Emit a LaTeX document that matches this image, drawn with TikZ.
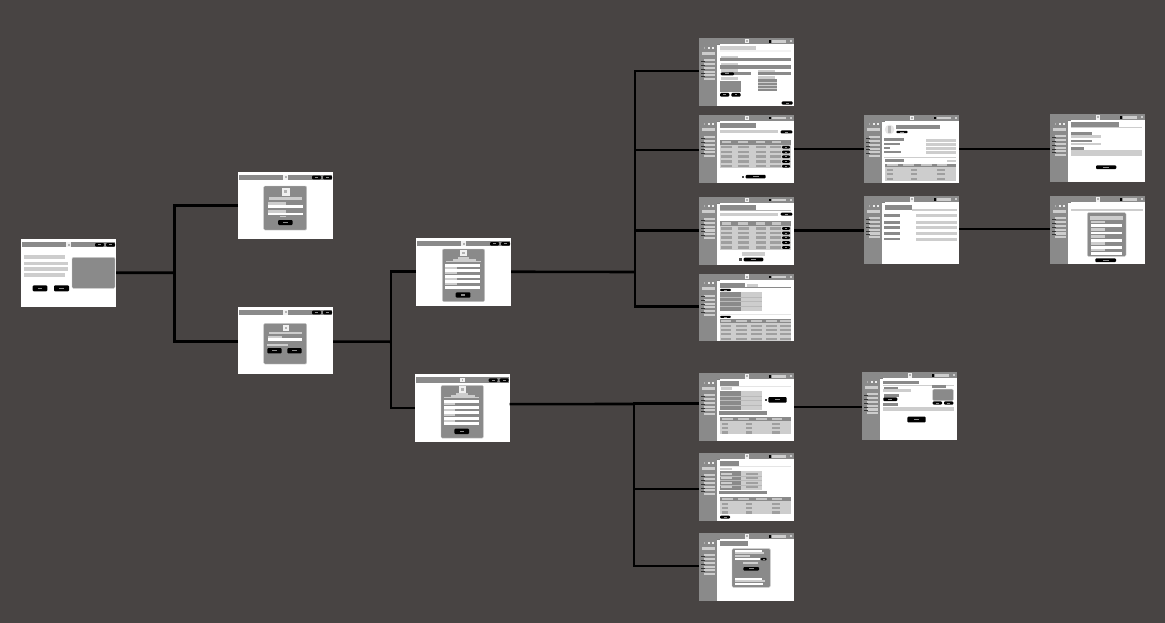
\documentclass[tikz,border=0pt]{standalone}
\usetikzlibrary{calc}
\definecolor{boardbg}{RGB}{72,68,67}
\definecolor{panelgray}{RGB}{138,138,138}
\definecolor{bargray}{RGB}{205,205,205}

\begin{document}
\begin{tikzpicture}[x=1pt,y=-1pt]
  % Styles
  \tikzset{
    screenbox/.style={fill=white,minimum width=95pt,minimum height=67.5pt,inner sep=0pt,outer sep=0pt,anchor=north west},
    link/.style={line width=2.6pt,black},
    panelfill/.style={fill=panelgray},
    barfill/.style={fill=bargray},
    inputfill/.style={fill=white},
    cardfill/.style={fill=panelgray,draw=bargray,line width=0.4pt,rounded corners=1.2pt},
    btnfill/.style={fill=black,rounded corners=1pt},
    tabfill/.style={fill=gray!75}
  }

  % Helpers: style, x1, y1, x2, y2 (local to one screen)
  \newcommand{\pane}[5]{\fill[#1] (#2,#3) rectangle (#4,#5);}
  \newcommand{\pill}[4]{%
    \fill[btnfill] (#1,#2) rectangle (#3,#4);
    \fill[panelgray] ({(#1)+0.35*((#3)-(#1))},{(#2)+0.38*((#4)-(#2))}) rectangle ({(#1)+0.65*((#3)-(#1))},{(#2)+0.62*((#4)-(#2))});
  }
  % Logo: x, y, size
  \newcommand{\logomark}[3]{%
    \fill[gray!12] (#1,#2) rectangle ++(#3,#3);
    \fill[gray!60] ({#1+0.3*#3},{#2+0.3*#3}) rectangle ++({0.4*#3},{0.4*#3});
  }
  \newcommand{\screen}[4]{% #1 name, #2 x, #3 y, #4 body
    \node[screenbox] (#1) at (#2,#3) {};
    \begin{scope}[shift={(#2,#3)}] #4 \end{scope}
  }

  % Public header: bar, logo, two buttons
  \newcommand{\siteshell}{%
    \pane{panelfill}{1}{3}{94}{8.2}
    \logomark{45.4}{3.2}{4.8}
    \pill{74}{4}{83}{7.6}
    \pill{85}{4}{94}{7.6}
  }
  % Logged in frame: top bar, side menu
  \newcommand{\appshell}{%
    \pane{panelfill}{0}{0}{95}{5.7}
    \pane{panelfill}{0}{5.7}{18}{67.5}
    \logomark{45.6}{0.6}{4.6}
    \pane{fill=black}{69.7}{1.7}{71.7}{4.3}
    \pane{barfill}{73}{2}{87}{4.3}
    \pane{barfill}{91}{2}{93}{4}
    \pane{fill=gray!60}{4.5}{8.3}{6.3}{10.3}
    \foreach \dotx in {9,13}{\pane{fill=gray!15}{\dotx}{8.3}{\dotx+1.8}{10.3}}
    \pane{barfill}{3}{13.3}{15.7}{16.3}
    \foreach \rowy in {20.7,24.7,28.7,32.4,36}{%
      \pane{barfill}{5.3}{\rowy}{16}{\rowy+2.1}
      \pane{fill=gray!40!black}{2}{\rowy+1.9}{5.6}{\rowy+2.3}
    }
    \pane{barfill}{5.3}{39.7}{16}{41.8}
    \pane{fill=gray}{18}{5.7}{21}{6.3}
  }
  % Three column table, header at #1
  \newcommand{\lowtable}[1]{%
    \pane{panelfill}{20.6}{#1}{92}{#1+3.8}
    \pane{barfill}{20.6}{#1+3.8}{92}{#1+17}
    \foreach \colx/\colw in {22.7/11,38.7/11,56.7/11,72.7/10}{\pane{fill=gray!45}{\colx}{#1+0.9}{\colx+\colw}{#1+2.9}}
    \foreach \rowy in {5.2,9.7,14}{%
      \pane{tabfill}{23.3}{#1+\rowy}{29.3}{#1+\rowy+2.2}
      \pane{tabfill}{47}{#1+\rowy}{53}{#1+\rowy+2.2}
      \pane{tabfill}{72.7}{#1+\rowy}{81}{#1+\rowy+2.2}
    }
  }
  % List table with row buttons, header at #1
  \newcommand{\listtable}[1]{%
    \pane{panelfill}{21}{#1}{92}{#1+4.8}
    \pane{barfill}{21}{#1+4.8}{92}{#1+28.6}
    \foreach \colx/\colw in {22.7/9.5,38.7/10.3,56.7/9.6,72.7/9.6}{\pane{fill=gray!45}{\colx}{#1+1.3}{\colx+\colw}{#1+3.6}}
    \foreach \rowy in {6,10.7,15.4,20.2,25}{%
      \pane{tabfill}{21.7}{#1+\rowy}{32.7}{#1+\rowy+2.6}
      \pane{tabfill}{38.7}{#1+\rowy}{49.7}{#1+\rowy+2.6}
      \pane{tabfill}{56.7}{#1+\rowy}{67.3}{#1+\rowy+2.6}
      \pane{tabfill}{71}{#1+\rowy}{82}{#1+\rowy+2.6}
      \pill{83}{#1+\rowy}{91}{#1+\rowy+2.8}
    }
  }
  % Dark and light key/value block, top at #1
  \newcommand{\keytable}[1]{%
    \pane{panelfill}{21}{#1}{41.7}{#1+18.7}
    \pane{barfill}{41.7}{#1}{62.7}{#1+18.7}
    \foreach \rowy in {4.7,9.4,14}{\pane{fill=gray!55}{21}{#1+\rowy}{62.7}{#1+\rowy+0.6}}
  }
  % Sign up form in a card
  \newcommand{\longform}{%
    \pane{cardfill}{26.3}{11}{68.7}{63.7}
    \logomark{44.3}{11.8}{6.6}
    \pane{barfill}{41.7}{19}{53}{21}
    \pane{barfill}{36.7}{21}{60}{23}
    \pane{barfill}{29.7}{23}{64.7}{24}
    \foreach \rowy in {25.7,31.3,36.8,42.4,48}{\pane{inputfill}{29.3}{\rowy}{64}{\rowy+2.8}}
    \foreach \rowy in {28.7,34.2,40,45.4}{\pane{barfill}{29.3}{\rowy}{40.7}{\rowy+2}}
    \pill{39.7}{54.3}{54.3}{59.7}
  }

  % Board
  \path[fill=boardbg,use as bounding box] (0,0) rectangle (1165,623);

  % Landing and sign in pages
  \screen{home}{21}{239}{%
    \siteshell
    \pane{barfill}{2.7}{16.3}{44}{20}
    \pane{barfill}{2.7}{22.7}{47}{26.3}
    \pane{barfill}{2.7}{28}{47}{32}
    \pane{barfill}{2.7}{34}{44}{37.7}
    \pane{cardfill}{51}{18.3}{94}{49.3}
    \pill{11.7}{46.3}{26.3}{52.3}
    \pill{33}{46.3}{48}{52.3}
  }
  \screen{login}{238}{171.7}{%
    \siteshell
    \pane{cardfill}{25.7}{14.3}{68.7}{58.3}
    \logomark{43.7}{16}{7.8}
    \pane{barfill}{31}{25}{63.7}{28}
    \pane{barfill}{30}{30}{47.7}{33}
    \pane{inputfill}{30}{33}{64.7}{36}
    \pane{barfill}{30}{38.3}{47.7}{40.8}
    \pane{inputfill}{30}{40.8}{64.7}{43.7}
    \pane{barfill}{41.7}{44}{48.3}{45.7}
    \pill{40}{48.3}{54.7}{53.3}
  }
  \screen{register}{238}{306.7}{%
    \siteshell
    \pane{cardfill}{25.7}{16.7}{68.7}{57.3}
    \logomark{44.7}{18.3}{6}
    \pane{barfill}{31}{25}{64}{27.3}
    \pane{barfill}{30}{29.3}{44.3}{31.7}
    \pane{inputfill}{30}{31.7}{63.7}{34.7}
    \pane{barfill}{29.3}{37.3}{49.7}{39.7}
    \pill{29.3}{41.3}{43.7}{46.7}
    \pill{49.3}{41.3}{63.7}{46.7}
  }
  \screen{formA}{416}{238}{\siteshell \longform}
  \screen{formB}{414.7}{374.4}{\siteshell \longform}

  % First dashboard column
  \screen{dashA}{699}{38.3}{%
    \appshell
    \pane{barfill}{21}{7.7}{56.7}{12.3}
    \pane{fill=gray!10}{21}{11.7}{92}{13.7}
    \pane{barfill}{21.7}{17.3}{39.3}{20}
    \pane{panelfill}{21}{20}{92}{23}
    \pane{barfill}{21.7}{24.3}{39.3}{27}
    \pane{panelfill}{21}{27}{92}{30.3}
    \pane{barfill}{21.7}{31}{39.3}{33.3}
    \pane{panelfill}{30}{34}{51.7}{36.7}
    \pill{21.7}{34}{35}{37}
    \pane{barfill}{59}{31.7}{76.3}{34}
    \pane{panelfill}{59}{34}{92}{37}
    \pane{barfill}{22}{38.7}{39.3}{41.7}
    \pane{panelfill}{21}{42.7}{42}{54}
    \pane{barfill}{59}{38}{76.3}{40.7}
    \pane{panelfill}{59}{41}{78}{53}
    \foreach \rowy in {44,47,50}{\pane{barfill}{59}{\rowy}{78}{\rowy+1}}
    \pill{21}{54.7}{30.3}{58.3}
    \pill{32.3}{54.7}{41.7}{58.3}
    \pill{82.7}{63}{93.7}{66.3}
  }
  \screen{dashB}{699}{115.2}{%
    \appshell
    \pane{panelfill}{21}{8.3}{57}{13.3}
    \pane{barfill}{21}{15}{78.7}{18}
    \pill{81.7}{15.3}{93.3}{18.3}
    \listtable{24.7}
    \pane{fill=gray!60!black}{42.7}{60.5}{45}{62.5}
    \pill{46.7}{59.7}{66.7}{63.3}
  }
  \screen{dashC}{699}{197}{%
    \appshell
    \pane{panelfill}{21}{8}{57}{13}
    \pane{fill=gray!60}{21}{13}{92}{13.7}
    \pane{barfill}{21}{16}{78.7}{18.7}
    \pill{81.7}{15.7}{93.3}{18.7}
    \listtable{24}
    \pane{barfill}{43}{55}{65.7}{59}
    \pane{fill=gray!60!black}{40.3}{61.3}{43}{63.7}
    \pill{44.7}{60.7}{64.3}{64.3}
  }
  \screen{dashD}{699}{273.8}{%
    \appshell
    \pane{panelfill}{21}{9}{46.3}{13.7}
    \pane{barfill}{47.7}{10.3}{59}{13}
    \pane{panelfill}{21}{13.3}{92}{14.3}
    \pill{21}{15}{32}{17.3}
    \keytable{18}
    \pane{fill=gray!20}{21}{40.3}{92}{41.3}
    \pill{21}{42}{32}{44}
    \pane{panelfill}{21}{44.7}{92}{49}
    \pane{barfill}{21}{49}{92}{67}
    \foreach \colx in {21.7,37,52.3,67,81}{%
      \pane{fill=gray!45}{\colx}{45.7}{\colx+10.5}{47.8}
      \foreach \rowy in {50.7,54.8,59.3,64}{\pane{tabfill}{\colx}{\rowy}{\colx+10.5}{\rowy+2.1}}
    }
  }
  \screen{dashE}{699}{373.3}{%
    \appshell
    \pane{panelfill}{21}{7.7}{39.7}{12.7}
    \pane{fill=gray!20}{21}{12.7}{92}{13.7}
    \pane{barfill}{21.7}{14}{33}{16.5}
    \keytable{17.7}
    \pane{fill=gray!60!black}{65.7}{25.3}{68}{27.3}
    \pill{69.3}{23.7}{87.7}{29.3}
    \pane{panelfill}{20.3}{37.3}{68.3}{41.3}
    \lowtable{44}
  }
  \screen{dashF}{699}{453.3}{%
    \appshell
    \pane{panelfill}{21}{7.7}{39.7}{13}
    \pane{fill=gray!20}{21}{12.7}{92}{13.7}
    \pane{barfill}{21}{14.3}{32.7}{16.7}
    \keytable{17.7}
    \foreach \rowy in {19.3,23.7,28.3,32.5}{%
      \pane{barfill}{22}{\rowy}{33}{\rowy+2.4}
      \pane{tabfill}{46.7}{\rowy}{59}{\rowy+2.4}
    }
    \pane{panelfill}{20.3}{37.3}{68.3}{41}
    \lowtable{44}
    \pill{21}{62.3}{31}{65.3}
  }
  \screen{dashG}{699}{533.3}{%
    \appshell
    \pane{panelfill}{21}{7.7}{49.3}{12.7}
    \pane{cardfill}{33}{15.3}{71.3}{54}
    \pane{inputfill}{36.3}{16.7}{63}{19}
    \pane{barfill}{36.3}{19}{65}{21}
    \pane{barfill}{36.3}{21.3}{51}{24}
    \pane{inputfill}{36.3}{24.3}{61}{27}
    \pill{61.7}{24.5}{67.7}{27}
    \pane{barfill}{44.3}{28.3}{59.3}{30.7}
    \pill{44.3}{33.7}{60}{37.3}
    \pane{inputfill}{36.3}{44.7}{63}{46.7}
    \pane{barfill}{36.3}{47}{66}{49}
    \pane{inputfill}{36.3}{50}{64}{52}
  }

  % Detail pages
  \screen{detailA}{864}{115.2}{%
    \appshell
    \fill[red!3!gray!20] (25.6,14.3) circle (4.8);
    \fill[gray!55] (24.4,11) rectangle (26.8,18);
    \pane{panelfill}{32.3}{9.7}{76.3}{14.3}
    \pill{32.3}{15.7}{43.7}{18}
    \pane{panelfill}{20.3}{23.3}{40.3}{25.7}
    \pane{panelfill}{20.3}{27.7}{35.7}{30}
    \pane{panelfill}{20.3}{32}{26}{34}
    \pane{panelfill}{20.3}{36}{37}{38.3}
    \foreach \rowy in {24,28,32,36.3}{\pane{barfill}{62}{\rowy}{91.7}{\rowy+2.7}}
    \pane{barfill}{20.3}{41.7}{91.7}{42.7}
    \pane{panelfill}{21}{44.3}{40}{47.3}
    \pane{barfill}{83}{45}{91.7}{46.7}
    \lowtable{48.4}
  }
  \screen{detailB}{864}{196.4}{%
    \appshell
    \pane{panelfill}{21}{8.3}{48}{14}
    \pane{barfill}{48}{13}{92.7}{14.3}
    \foreach \rowy in {18,24.7,29.7,35.7,41.3}{%
      \pane{panelfill}{20}{\rowy}{35.7}{\rowy+2.4}
      \pane{barfill}{51.7}{\rowy}{92.7}{\rowy+2.8}
    }
  }
  \screen{farA}{1050}{114.4}{%
    \appshell
    \pane{panelfill}{21}{7.7}{68.7}{12.7}
    \pane{barfill}{21}{12.7}{92}{13.7}
    \pane{panelfill}{21}{18}{42}{20.3}
    \pane{barfill}{21}{20.7}{51}{23.3}
    \pane{panelfill}{21}{25.7}{42}{28}
    \pane{barfill}{21}{28.3}{51}{31}
    \pane{panelfill}{21}{33}{34}{35.3}
    \pane{barfill}{21}{36}{92}{41.3}
    \pill{46}{51}{66.3}{54.7}
  }
  \screen{farB}{1050}{196.4}{%
    \appshell
    \pane{barfill}{21}{12.7}{92.7}{14.3}
    \pane{cardfill}{37.3}{16.3}{76}{60}
    \pane{barfill}{40}{20}{73}{23.7}
    \foreach \rowy in {24.3,31.7,39,46,52.2}{%
      \pane{barfill}{41}{\rowy}{55.3}{\rowy+2.4}
      \pane{inputfill}{41}{\rowy+3.6}{72}{\rowy+6.2}
    }
    \pill{45.3}{62}{66}{65.7}
  }
  \screen{detailC}{862}{372.4}{%
    \appshell
    \pane{panelfill}{21}{8.3}{57}{11.7}
    \pane{barfill}{21}{12.3}{92}{13}
    \pane{panelfill}{21.7}{14.3}{35.7}{16.7}
    \pane{barfill}{21}{17}{49}{19.7}
    \pane{panelfill}{22}{22}{37}{24.3}
    \pill{21.3}{25}{35.3}{28.7}
    \pane{panelfill}{21.3}{31}{35.7}{33.3}
    \pane{barfill}{21}{34.3}{92}{38.7}
    \pane{panelfill}{70.3}{13}{84}{15.3}
    \pane{cardfill}{70.7}{16.7}{91.3}{28.3}
    \pill{70.7}{29}{80}{32.3}
    \pill{82}{29}{91.3}{32.3}
    \pill{45.3}{44.3}{63.7}{50}
  }

  % Connectors
  \coordinate (forkA) at (174.5,272.8);
  \coordinate (forkB) at (391,341.7);
  \coordinate (forkC) at (635,272);
  \coordinate (forkD) at (634,404);

  \draw[link] (home.east) -- (forkA);
  \draw[link] (login.west) -| (forkA);
  \draw[link] ([yshift=-1.2pt]register.west) -| (forkA);

  \draw[link] ([yshift=-1.2pt]register.east) -- (forkB);
  \draw[link] (formA.west) -| (forkB);
  \draw[link] (formB.west) -| (forkB);

  \draw[link] (formA.east) -- (forkC);
  \draw[link] ([yshift=1pt]dashA.west) -| (forkC);
  \draw[link] ([yshift=-1pt]dashB.west) -| (forkC);
  \draw[link] (dashC.west) -| (forkC);
  \draw[link] ([yshift=1pt]dashD.west) -| (forkC);

  \draw[link] ([yshift=4pt]formB.east) -- (forkD);
  \draw[link] ([yshift=3.7pt]dashE.west) -| (forkD);
  \draw[link] ([yshift=-2pt]dashF.west) -| (forkD);
  \draw[link] ([yshift=1pt]dashG.west) -| (forkD);

  \draw[link] (dashB.east) -- (dashB.east -| detailA.west);
  \draw[link] (detailA.east) -- (detailA.east -| farA.west);
  \draw[link] (dashC.east) -- (dashC.east -| detailB.west);
  \draw[link] ([yshift=1pt]detailB.east) -- ([yshift=1pt]detailB.east -| farB.west);
  \draw[link] (dashE.east) -- (dashE.east -| detailC.west);
\end{tikzpicture}
\end{document}
